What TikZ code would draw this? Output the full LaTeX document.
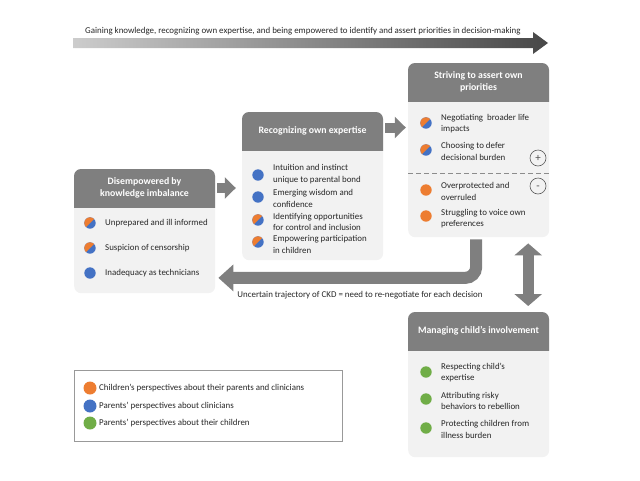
\documentclass[tikz,border=0pt]{standalone}
\usepackage{fontspec}
\setmainfont{Carlito}
\usetikzlibrary{arrows.meta,calc}
\definecolor{hdr}{HTML}{7F7F7F}
\definecolor{bodyc}{HTML}{F2F2F2}
\definecolor{org}{HTML}{ED7D31}
\definecolor{blu}{HTML}{4472C4}
\definecolor{grn}{HTML}{70AD47}
\definecolor{arr}{HTML}{7F7F7F}
\definecolor{txt}{HTML}{262626}
\tikzset{
  bodybox/.style={fill=bodyc, rounded corners=7pt, anchor=north west, inner sep=0pt, minimum width=141pt},
  hdrtext/.style={text=white, font=\bfseries\fontsize{9.8}{11.5}\selectfont, align=center, minimum width=141pt, minimum height=38pt, inner sep=0pt},
  itemtext/.style={anchor=west, align=left, text=txt, font=\fontsize{8.9}{11.5}\selectfont, inner sep=0pt},
  blk/.style={draw=arr, line width=10pt, -{Triangle[length=11pt,width=21pt]}},
  pm/.style={circle, draw=black!65, line width=0.6pt, minimum size=16pt, inner sep=0pt, text=black!70, font=\fontsize{11}{11}\selectfont, text height=6pt, text depth=0pt},
  split/.pic={\begin{scope}\clip (0,0) circle (5.7); \fill[blu] (-7,-7) rectangle (7,7); \fill[org] (-7,7) -- (7,-7) -- (-7,-7) -- cycle; \end{scope}},
}
\begin{document}
\begin{tikzpicture}[x=1pt,y=-1pt]
\useasboundingbox (0,0) rectangle (640,480);
% top gradient arrow
\shade[left color=black!20, right color=black!72] (73,38) -- (533,38) -- (533,32) -- (548,43) -- (533,54) -- (533,48) -- (73,48) -- cycle;
\node[anchor=west, text=txt, font=\fontsize{8.9}{10}\selectfont, inner sep=0pt] (title) at (85,31) {Gaining knowledge, recognizing own expertise, and being empowered to identify and assert priorities in decision-making};

% box 1
\node[bodybox, minimum height=124pt] (b1) at (74,169) {};
\begin{scope}\clip (74,169) rectangle (215,207); \fill[hdr, rounded corners=7pt] (74,169) rectangle (215,293); \end{scope}
\node[hdrtext] (h1) at (144.5,188) {Disempowered by\\knowledge imbalance};
\pic at (90,223) {split};
\node[itemtext] (i11) at (105,223) {Unprepared and ill informed};
\pic at (90,248) {split};
\node[itemtext] (i12) at (105,248) {Suspicion of censorship};
\fill[blu] (90,273) circle (5.7);
\node[itemtext] (i13) at (105,273) {Inadequacy as technicians};

% box 2
\node[bodybox, minimum height=148pt] (b2) at (242,112) {};
\begin{scope}\clip (242,112) rectangle (383,150); \fill[hdr, rounded corners=7pt] (242,112) rectangle (383,260); \end{scope}
\node[hdrtext] (h2) at (312.5,131) {Recognizing own expertise};
\fill[blu] (258,175) circle (5.7);
\node[itemtext] (i21) at (273,174) {Intuition and instinct\\unique to parental bond};
\fill[blu] (258,197) circle (5.7);
\node[itemtext] (i22) at (273,198.5) {Emerging wisdom and\\confidence};
\pic at (258,220) {split};
\node[itemtext] (i23) at (273,222) {Identifying opportunities\\for control and inclusion};
\pic at (258,242) {split};
\node[itemtext] (i24) at (273,244.5) {Empowering participation\\in children};

% box 3
\node[bodybox, minimum height=174pt] (b3) at (408,63) {};
\begin{scope}\clip (408,63) rectangle (549,101); \fill[hdr, rounded corners=7pt] (408,63) rectangle (549,237); \end{scope}
\node[hdrtext] (h3) at (478.5,82) {Striving to assert own\\priorities};
\pic at (426,123) {split};
\node[itemtext] (i31) at (441,123.5) {Negotiating\ \ broader life\\impacts};
\pic at (426,150) {split};
\node[itemtext] (i32) at (441,151.5) {Choosing to defer\\decisional burden};
\draw[black!45, line width=0.8pt, dash pattern=on 5pt off 3pt] (408,173) -- (549,173);
\fill[org] (426,190) circle (5.7);
\node[itemtext] (i33) at (441,191.5) {Overprotected and\\overruled};
\fill[org] (426,216) circle (5.7);
\node[itemtext] (i34) at (441,218.5) {Struggling to voice own\\preferences};
\node[pm] (plus) at (538,158) {+};
\node[pm] (minus) at (538,186) {-};

% box 4
\node[bodybox, minimum height=145pt] (b4) at (408,312) {};
\begin{scope}\clip (408,312) rectangle (549,350); \fill[hdr, rounded corners=7pt] (408,312) rectangle (549,457); \end{scope}
\node[hdrtext] (h4) at (478.5,331) {Managing child’s involvement};
\fill[grn] (426,372) circle (5.7);
\node[itemtext] (i41) at (441,372.5) {Respecting child’s\\expertise};
\fill[grn] (426,399) circle (5.7);
\node[itemtext] (i42) at (441,401) {Attributing risky\\behaviors to rebellion};
\fill[grn] (426,428) circle (5.7);
\node[itemtext] (i43) at (441,429.5) {Protecting children from\\illness burden};

% arrows
\draw[blk] ($(h1.east)+(2,0)$) -- ($(h2.west |- h1.east)+(-6,0)$);
\coordinate (a2) at ($(h2.east)+(0,-3.5)$);
\draw[blk] ($(a2)+(2,0)$) -- ($(h3.west |- a2)+(-2,0)$);
\coordinate (ustart) at ($(b3.south)+(-2.5,2)$);
\coordinate (ubend) at ($(b3.south)+(-2.5,40.5)$);
\draw[draw=arr, line width=12pt, rounded corners=11pt, -{Triangle[length=15pt,width=26pt]}] (ustart) -- (ubend) -- ($(b1.east |- ubend)+(3,0)$);
\node[text=txt, font=\fontsize{8.9}{10}\selectfont, inner sep=0pt] (cap) at (360,295) {Uncertain trajectory of CKD = need to re-negotiate for each decision};
\draw[draw=arr, line width=11pt, {Triangle[length=12pt,width=27pt]}-{Triangle[length=12pt,width=27pt]}] ($(b3.south)+(49.5,6)$) -- ($(b4.north)+(49.5,-6)$);

% legend
\node[draw=black!40, fill=white, line width=0.8pt, anchor=north west, minimum width=268pt, minimum height=71pt, inner sep=0pt] (leg) at (74,370) {};
\fill[org] (90,388) circle (6.5);
\node[itemtext] (l1) at (99,388) {Children’s perspectives about their parents and clinicians};
\fill[blu] (90,406) circle (6.5);
\node[itemtext] (l2) at (99,406) {Parents’ perspectives about clinicians};
\fill[grn] (90,423) circle (6.5);
\node[itemtext] (l3) at (99,423) {Parents’ perspectives about their children};
\end{tikzpicture}
\end{document}
